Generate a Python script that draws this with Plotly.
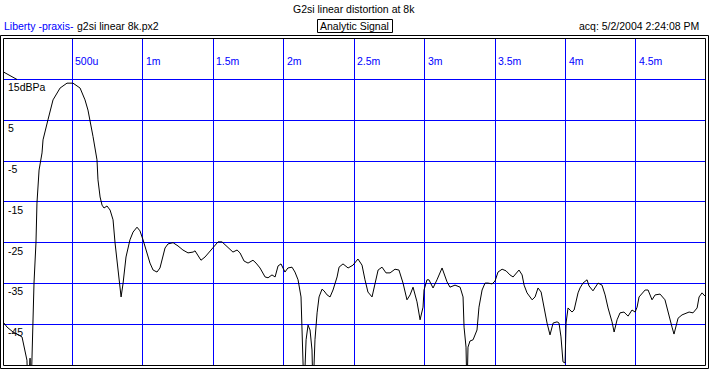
import plotly.graph_objects as go

# ---- data (time in ms, level in dBPa) ----
time_ms = [
    0.000, 0.015, 0.037, 0.079, 0.143, 0.164, 0.178, 0.186, 0.200, 0.207, 0.214,
    0.221, 0.228, 0.242, 0.249, 0.264, 0.285, 0.292, 0.313, 0.327, 0.363, 0.413,
    0.462, 0.505, 0.555, 0.590, 0.611, 0.626, 0.647, 0.675, 0.682, 0.697, 0.711,
    0.725, 0.746, 0.768, 0.789, 0.803, 0.824, 0.846, 0.860, 0.881, 0.909, 0.931,
    0.959, 0.980, 1.002, 1.030, 1.051, 1.073, 1.101, 1.122, 1.144, 1.158, 1.179,
    1.215, 1.250, 1.285, 1.321, 1.357, 1.371, 1.392, 1.413, 1.442, 1.470, 1.499,
    1.534, 1.562, 1.591, 1.619, 1.640, 1.669, 1.690, 1.719, 1.747, 1.782, 1.804,
    1.832, 1.868, 1.889, 1.917, 1.939, 1.960, 1.981, 1.995, 2.009, 2.030, 2.059,
    2.080, 2.102, 2.123, 2.130, 2.137, 2.144, 2.159, 2.173, 2.187, 2.201, 2.208,
    2.222, 2.237, 2.251, 2.272, 2.286, 2.308, 2.329, 2.350, 2.379, 2.393, 2.421,
    2.457, 2.492, 2.527, 2.556, 2.577, 2.598, 2.627, 2.648, 2.670, 2.698, 2.726,
    2.755, 2.790, 2.818, 2.847, 2.875, 2.897, 2.918, 2.946, 2.968, 2.989, 2.996,
    3.017, 3.031, 3.060, 3.088, 3.124, 3.159, 3.180, 3.216, 3.252, 3.273, 3.280,
    3.294, 3.301, 3.308, 3.322, 3.344, 3.372, 3.386, 3.408, 3.429, 3.450, 3.479,
    3.500, 3.521, 3.550, 3.578, 3.606, 3.628, 3.656, 3.670, 3.692, 3.706, 3.727,
    3.763, 3.784, 3.805, 3.827, 3.841, 3.869, 3.890, 3.912, 3.940, 3.954, 3.968,
    3.982, 3.997, 4.004, 4.018, 4.046, 4.061, 4.089, 4.103, 4.124, 4.153, 4.167,
    4.195, 4.231, 4.259, 4.281, 4.302, 4.330, 4.345, 4.366, 4.387, 4.415, 4.444,
    4.472, 4.494, 4.508, 4.522, 4.565, 4.586, 4.614, 4.636, 4.671, 4.706, 4.728,
    4.756, 4.770, 4.799, 4.827, 4.855, 4.877, 4.905, 4.934, 4.948, 4.969, 4.990,
]
level_db = [
    -44.4, -44.7, -45.7, -46.9, -48.1, -51.3, -53.8, -62.0, -53.3, -62.0, -53.0,
    -44.7, -34.9, -25.0, -15.3, -7.2, -3.0, 0.2, 3.4, 5.1, 10.0, 12.9,
    14.1, 14.1, 12.9, 10.0, 7.5, 5.1, 1.0, -4.7, -9.6, -13.8, -15.8,
    -16.5, -16.0, -17.0, -19.4, -25.0, -31.2, -38.3, -35.0, -28.5, -24.3, -22.4,
    -21.2, -22.1, -24.3, -27.5, -30.0, -31.7, -32.2, -31.2, -28.5, -26.3, -25.3,
    -25.0, -25.8, -26.8, -27.5, -27.3, -27.0, -28.0, -29.3, -28.5, -27.3, -26.1,
    -24.8, -24.8, -25.8, -26.8, -27.3, -26.8, -27.5, -29.5, -30.0, -29.3, -30.0,
    -31.2, -33.4, -33.6, -32.9, -33.4, -30.7, -30.2, -31.2, -32.2, -31.2, -31.0,
    -32.2, -34.1, -38.3, -44.7, -50.6, -62.0, -48.8, -45.2, -46.4, -51.3, -62.0,
    -48.8, -42.2, -38.3, -36.4, -36.8, -37.8, -38.3, -36.6, -33.4, -31.0, -30.2,
    -31.2, -30.5, -29.0, -30.5, -34.1, -37.1, -38.3, -34.9, -31.7, -31.0, -32.4,
    -32.4, -31.5, -31.7, -34.9, -39.0, -37.8, -35.9, -39.5, -43.9, -40.8, -36.6,
    -34.1, -34.1, -36.1, -34.1, -31.2, -34.6, -35.9, -35.4, -35.9, -38.3, -45.7,
    -50.6, -62.0, -50.6, -49.1, -48.8, -46.4, -40.8, -36.6, -34.9, -34.9, -35.1,
    -34.4, -32.2, -31.5, -31.9, -32.9, -33.4, -32.4, -31.7, -32.9, -35.4, -37.3,
    -39.0, -38.3, -36.1, -37.1, -39.8, -44.7, -47.6, -44.7, -44.4, -44.7, -48.1,
    -54.2, -54.5, -44.7, -41.0, -42.0, -41.5, -37.3, -36.1, -34.9, -34.1, -35.6,
    -36.8, -34.9, -35.4, -37.8, -41.0, -44.4, -46.9, -43.9, -42.2, -42.0, -43.0,
    -41.5, -42.0, -40.8, -38.3, -36.6, -36.6, -39.0, -37.8, -37.6, -39.0, -42.2,
    -45.7, -47.4, -43.5, -42.7, -42.2, -42.0, -42.2, -41.0, -38.3, -37.3, -38.1,
]

x_tick_vals = [0.5, 1.0, 1.5, 2.0, 2.5, 3.0, 3.5, 4.0, 4.5]
x_tick_text = ["500u", "1m", "1.5m", "2m", "2.5m", "3m", "3.5m", "4m", "4.5m"]
y_tick_vals = [15, 5, -5, -15, -25, -35, -45]
y_tick_text = ["15dBPa", "5", "-5", "-15", "-25", "-35", "-45"]

title_text = "G2si linear distortion at 8k"
subtitle_text = "Analytic Signal"
brand_text = "Liberty -praxis-"
file_text = "g2si linear 8k.px2"
acq_text = "acq: 5/2/2004 2:24:08 PM"

FONT = "Liberation Sans, Arial, sans-serif"
BLUE = "#0000ff"
FS = 10.5

# plot area in pixels: x 3..705, y 38..365
W, H = 709, 380
L, R, T, B = 3, 4, 38, 15
PW, PH = W - L - R, H - T - B


def px(xp):
    return (xp - L) / PW


def py(yp):
    return (H - B - yp) / PH


fig = go.Figure()
fig.add_trace(go.Scatter(x=time_ms, y=level_db, mode="lines",
                         line=dict(color="black", width=1), hoverinfo="skip"))

annotations = []
for v, t in zip(x_tick_vals, x_tick_text):
    annotations.append(dict(x=v, xref="x", y=py(61), yref="paper", text=t,
                            showarrow=False, xanchor="left", yanchor="middle",
                            xshift=1, font=dict(family=FONT, size=FS, color=BLUE)))
for v, t in zip(y_tick_vals, y_tick_text):
    annotations.append(dict(x=0, xref="paper", y=v, yref="y", text=t,
                            showarrow=False, xanchor="left", yanchor="middle",
                            xshift=3, yshift=-8, font=dict(family=FONT, size=FS, color="black")))

annotations += [
    dict(x=0.5, xref="paper", y=py(9), yref="paper", text=title_text, showarrow=False,
         xanchor="center", yanchor="middle", font=dict(family=FONT, size=FS, color="black")),
    dict(x=0.5, xref="paper", y=py(25.5), yref="paper", text=subtitle_text, showarrow=False,
         xanchor="center", yanchor="middle", font=dict(family=FONT, size=FS, color="black")),
    dict(x=px(3), xref="paper", y=py(25.5), yref="paper", text=brand_text, showarrow=False,
         xanchor="left", yanchor="middle", xshift=-1, font=dict(family=FONT, size=FS, color=BLUE)),
    dict(x=px(76), xref="paper", y=py(25.5), yref="paper", text=file_text, showarrow=False,
         xanchor="left", yanchor="middle", xshift=-1, font=dict(family=FONT, size=FS, color="black")),
    dict(x=px(700), xref="paper", y=py(25.5), yref="paper", text=acq_text, showarrow=False,
         xanchor="right", yanchor="middle", xshift=1, font=dict(family=FONT, size=FS, color="black")),
]

shapes = [
    # inner frame
    dict(type="rect", xref="paper", yref="paper", x0=px(3.5), x1=px(705.5), y0=py(365.5), y1=py(38.5),
         line=dict(color="black", width=1)),
    # outer frame
    dict(type="rect", xref="paper", yref="paper", x0=px(0.5), x1=px(708.5), y0=py(368.5), y1=py(35.5),
         line=dict(color="black", width=1)),
    # subtitle box
    dict(type="rect", xref="paper", yref="paper", x0=px(317.5), x1=px(392.5), y0=py(32.5), y1=py(19.5),
         line=dict(color="black", width=1)),
    # reference marker triangle
    dict(type="line", xref="paper", yref="y", x0=px(3.5), x1=px(17), y0=15 + 7.5 * 80.17 / PH, y1=15,
         line=dict(color="black", width=1)),
]

fig.update_layout(
    width=W, height=H,
    margin=dict(l=L, r=R, t=T, b=B, pad=0),
    paper_bgcolor="white", plot_bgcolor="white",
    showlegend=False,
    annotations=annotations,
    shapes=shapes,
    xaxis=dict(range=[0.008, 4.990], tickvals=x_tick_vals, showticklabels=False,
               showgrid=True, gridcolor=BLUE, gridwidth=1, zeroline=False, ticks="",
               showline=False, fixedrange=True),
    yaxis=dict(range=[-54.98, 25.17], tickvals=y_tick_vals, showticklabels=False,
               showgrid=True, gridcolor=BLUE, gridwidth=1, zeroline=False, ticks="",
               showline=False, fixedrange=True),
)

fig.write_html("out.html")
